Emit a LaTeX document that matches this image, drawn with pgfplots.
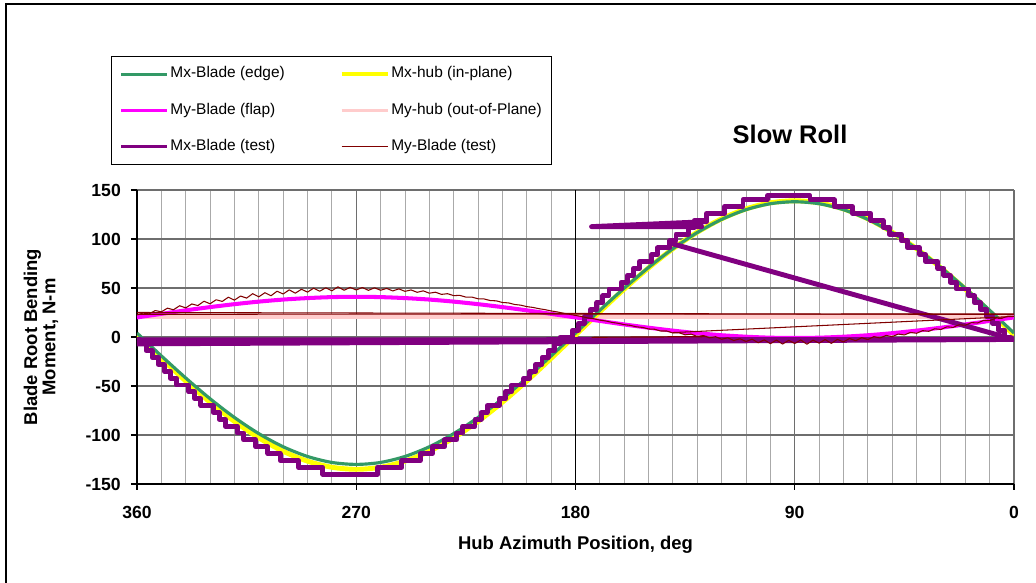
\documentclass[border=0pt]{standalone}
\usepackage{fontspec}
\setmainfont{Liberation Sans}
\usepackage{pgfplots}
\pgfplotsset{compat=1.18}

\definecolor{edgegreen}{RGB}{51,153,102}
\definecolor{hubyellow}{RGB}{255,255,0}
\definecolor{flapmag}{RGB}{255,0,255}
\definecolor{hubpink}{RGB}{255,204,204}
\definecolor{testpurple}{RGB}{128,0,128}
\definecolor{testred}{RGB}{128,0,0}
\definecolor{gridmaj}{RGB}{110,110,110}
\definecolor{gridmin}{RGB}{170,170,170}

\begin{document}
\begin{tikzpicture}
\useasboundingbox (0,0) rectangle (20.72cm,11.66cm);
\draw[line width=0.6pt] (0.12cm,0) -- (0.12cm,11.58cm) -- (20.72cm,11.58cm);
\begin{axis}[
    at={(2.74cm,1.98cm)}, anchor=south west,
    scale only axis, width=17.54cm, height=5.88cm,
    x dir=reverse,
    xmin=0, xmax=360, ymin=-150, ymax=150,
    xtick={0,90,180,270,360},
    ytick={-150,-100,...,150},
    minor x tick num=8,
    xmajorgrids, xminorgrids, ymajorgrids,
    major grid style={gridmaj, line width=0.6pt},
    minor grid style={gridmin, line width=0.5pt},
    extra x ticks={180}, extra x tick labels={},
    extra x tick style={major grid style={black, line width=0.6pt}},
    axis lines*=left,
    axis line style={black, line width=0.7pt, -},
    tick align=outside,
    major tick length=0.12cm, minor tick length=0pt,
    tick style={black, line width=0.6pt},
    /pgf/number format/assume math mode=true,
    ticklabel style={font=\bfseries\fontsize{10}{12}\selectfont},
    xticklabel style={yshift=-0.2cm},
    yticklabel style={xshift=-0.08cm},
    title={Slow Roll},
    title style={at={(axis description cs:0.7446,1.153)}, anchor=center,
        font=\bfseries\fontsize{14.5}{17}\selectfont},
    xlabel={Hub Azimuth Position, deg},
    xlabel style={at={(axis description cs:0.5,-0.207)}, anchor=center,
        font=\bfseries\fontsize{10.5}{12}\selectfont},
    ylabel={Blade Root Bending\\Moment, N-m},
    ylabel style={at={(axis description cs:-0.1095,0.5)}, anchor=center,
        align=center, font=\bfseries\fontsize{10.5}{10.3}\selectfont},
    legend columns=2,
    legend cell align=left,
    legend image code/.code={\draw[#1] (0cm,0cm) -- (0.92cm,0cm);},
    legend style={at={(axis description cs:-0.0296,1.456)}, anchor=north west,
        draw=black, line width=0.6pt,
        font=\fontsize{8.8}{10}\selectfont,
        inner xsep=0.16cm, inner ysep=0.2cm,
        row sep=0.414cm,
        /tikz/every even column/.append style={column sep=1.06cm},
        nodes={inner xsep=1pt, inner ysep=0pt, text height=0.23cm, text depth=0.08cm}},
]

% My-hub (out-of-Plane)
\addplot[forget plot, hubpink, line width=2.8pt] coordinates {
(0,21)(90,21)(180,21)(270,21)(360,21)};

% Mx-hub (in-plane)
\addplot[forget plot, hubyellow, line width=2.8pt, smooth] coordinates {
(0,2)(10,25.8)(20,48.9)(30,70.5)(40,90.1)(50,106.9)(60,120.6)(70,130.7)(80,136.9)
(90,139)(100,136.9)(110,130.7)(120,120.6)(130,106.9)(140,90.1)(150,70.5)(160,48.9)(170,25.8)
(180,2)(190,-21.8)(200,-44.9)(210,-66.5)(220,-86.1)(230,-102.9)(240,-116.6)(250,-126.7)(260,-132.9)
(270,-135)(280,-132.9)(290,-126.7)(300,-116.6)(310,-102.9)(320,-86.1)(330,-66.5)(340,-44.9)(350,-21.8)
(360,2)};

% Mx-Blade (edge)
\addplot[forget plot, edgegreen, line width=1.8pt, smooth] coordinates {
(0,4)(10,27.3)(20,49.8)(30,71)(40,90.1)(50,106.6)(60,120)(70,129.9)(80,136)
(90,138)(100,136)(110,129.9)(120,120)(130,106.6)(140,90.1)(150,71)(160,49.8)(170,27.3)
(180,4)(190,-19.3)(200,-41.8)(210,-63)(220,-82.1)(230,-98.6)(240,-112)(250,-121.9)(260,-128)
(270,-130)(280,-128)(290,-121.9)(300,-112)(310,-98.6)(320,-82.1)(330,-63)(340,-41.8)(350,-19.3)
(360,4)};

% My-Blade (flap)
\addplot[forget plot, flapmag, line width=2.3pt, smooth] coordinates {
(0,20)(10,16.4)(20,12.8)(30,9.5)(40,6.5)(50,3.9)(60,1.8)(70,0.3)(80,-0.7)
(90,-1)(100,-0.7)(110,0.3)(120,1.8)(130,3.9)(140,6.5)(150,9.5)(160,12.8)(170,16.4)
(180,20)(190,23.6)(200,27.2)(210,30.5)(220,33.5)(230,36.1)(240,38.2)(250,39.7)(260,40.7)
(270,41)(280,40.7)(290,39.7)(300,38.2)(310,36.1)(320,33.5)(330,30.5)(340,27.2)(350,23.6)
(360,20)};

% Mx-Blade (test), stepped signal
\addplot[forget plot, testpurple, line width=2.8pt, line join=round, const plot mark mid] coordinates {
(0,-3)(2.5,0)(5,7)(7.5,14)(10,21)(12.5,28)(15,35)(17.5,42)(20,49)(22.5,49)
(25,56)(27.5,63)(30,70)(32.5,77)(35,77)(37.5,84)(40,91)(42.5,91)(45,98)(47.5,105)
(50,105)(52.5,112)(55,119)(57.5,119)(60,126)(62.5,126)(65,126)(67.5,133)(70,133)(72.5,133)
(75,140)(77.5,140)(80,140)(82.5,140)(85,144)(87.5,144)(90,144)(92.5,144)(95,144)(97.5,144)
(100,144)(102.5,140)(105,140)(107.5,140)(110,140)(112.5,133)(115,133)(117.5,133)(120,126)
(122.5,126)(125,126)(127.5,119)(130,119)(132.5,112)(135,105)(137.5,105)(140,98)(142.5,91)
(145,91)(147.5,84)(150,77)(152.5,77)(155,70)(157.5,63)(160,56)(162.5,49)(165,49)(167.5,42)
(170,35)(172.5,28)(175,21)(177.5,14)(180,7)(182.5,0)(185,0)(187.5,-7)(190,-14)(192.5,-21)
(195,-28)(197.5,-35)(200,-42)(202.5,-49)(205,-49)(207.5,-56)(210,-63)(212.5,-70)(215,-70)
(217.5,-77)(220,-84)(222.5,-91)(225,-91)(227.5,-98)(230,-105)(232.5,-105)(235,-112)
(237.5,-112)(240,-119)(242.5,-119)(245,-126)(247.5,-126)(250,-126)(252.5,-133)(255,-133)
(257.5,-133)(260,-133)(262.5,-140)(265,-140)(267.5,-140)(270,-140)(272.5,-140)(275,-140)
(277.5,-140)(280,-140)(282.5,-140)(285,-133)(287.5,-133)(290,-133)(292.5,-133)(295,-126)
(297.5,-126)(300,-126)(302.5,-119)(305,-119)(307.5,-112)(310,-112)(312.5,-105)(315,-105)
(317.5,-98)(320,-91)(322.5,-91)(325,-84)(327.5,-77)(330,-70)(332.5,-70)(335,-63)(337.5,-56)
(340,-49)(342.5,-49)(345,-42)(347.5,-35)(350,-28)(352.5,-21)(355,-14)(357.5,-7)(360,-3)};
\addplot[forget plot, testpurple, line width=2.8pt, line join=round, line cap=round] coordinates {
(126.2,117.7)(173.4,112.6)(128.2,112.6)};
\addplot[forget plot, testpurple, line width=2.8pt, line cap=round] coordinates {(0,-2.5)(140,95)};
\addplot[forget plot, testpurple, line width=2.8pt] coordinates {(0,-2.5)(360,-3)};
\addplot[forget plot, testpurple, line width=2.8pt] coordinates {(0,-2.5)(360,-7)};

% My-Blade (test)
\addplot[forget plot, testred, line width=0.6pt, line join=round] coordinates {
(0,21)(2.5,21.3)(5,19.1)(7.5,19.2)(10,16.7)(12.5,16.9)(15,14.3)(17.5,14.7)(20,12)(22.5,12.5)
(25,9.8)(27.5,10.4)(30,7.7)(32.5,8.4)(35,5.8)(37.5,6.5)(40,3.8)(42.5,4.7)(45,2.1)(47.5,3)
(50,0.4)(52.5,1.6)(55,-1)(57.5,0.4)(60,-2.6)(62.5,-0.7)(65,-3.8)(67.5,-1.5)(70,-5)(72.5,-2.4)
(75,-6.5)(77.5,-2.6)(80,-6.3)(82.5,-3.2)(85,-7.4)(87.5,-3)(90,-6.6)(92.5,-3.4)(95,-7.2)
(97.5,-3.1)(100,-6.8)(102.5,-2.9)(105,-5.9)(107.5,-2.2)(110,-4.6)(112.5,-1.8)(115,-3.6)
(117.5,-0.8)(120,-2.3)(122.5,0.3)(125,-0.9)(127.5,1.5)(130,0.6)(132.5,2.9)(135,2.2)(137.5,4.4)
(140,4.1)(142.5,6.1)(145,6.1)(147.5,7.9)(150,8.2)(152.5,9.8)(155,10.4)(157.5,11.9)(160,12.6)
(162.5,14)(165,14.9)(167.5,16.3)(170,17.2)(172.5,18.6)(175,19.5)(177.5,20.9)(180,22)
(182.5,23.2)(185,24.3)(187.5,25.6)(190,26.6)(192.5,27.9)(195,28.9)(197.5,30.2)(200,31)
(202.5,32.5)(205,33.2)(207.5,34.8)(210,35.2)(212.5,36.9)(215,37.2)(217.5,38.8)(220,39)
(222.5,40.7)(225,40.7)(227.5,42.5)(230,42.2)(232.5,44.2)(235,43.5)(237.5,45.7)(240,44.7)
(242.5,47.1)(245,45.6)(247.5,48)(250,46.6)(252.5,49.1)(255,47)(257.5,49.6)(260,47.7)
(262.5,50.2)(265,47.6)(267.5,50.5)(270,48)(272.5,50.6)(275,47.7)(277.5,51.2)(280,47.1)
(282.5,50.2)(285,46.7)(287.5,49.8)(290,45.8)(292.5,48.7)(295,44.7)(297.5,48.1)(300,43.9)
(302.5,46.7)(305,42.1)(307.5,45.2)(310,41)(312.5,44.2)(315,39.7)(317.5,41.8)(320,37.6)
(322.5,40.6)(325,36.3)(327.5,38)(330,33.9)(332.5,36.5)(335,32.1)(337.5,33.7)(340,29.7)
(342.5,31.9)(345,27.8)(347.5,29.4)(350,25.7)(352.5,27)(355,23.6)(357.5,24.4)(360,22.5)};
\addplot[forget plot, testred, line width=0.6pt] coordinates {(0,21)(140,4.5)};
\addplot[forget plot, testred, line width=0.6pt] coordinates {(0,23)(360,25)};
\addplot[forget plot, testred, line width=0.6pt] coordinates {(0,23.5)(360,23.2)};
\addplot[forget plot, testred, line width=0.6pt] coordinates {(126,0.5)(173.4,-0.3)(128,0.2)};

\addlegendimage{edgegreen, line width=1.8pt}
\addlegendentry{Mx-Blade (edge)}
\addlegendimage{hubyellow, line width=2.3pt}
\addlegendentry{Mx-hub (in-plane)}
\addlegendimage{flapmag, line width=1.8pt}
\addlegendentry{My-Blade (flap)}
\addlegendimage{hubpink, line width=1.8pt}
\addlegendentry{My-hub (out-of-Plane)}
\addlegendimage{testpurple, line width=1.8pt}
\addlegendentry{Mx-Blade (test)}
\addlegendimage{testred, line width=0.6pt}
\addlegendentry{My-Blade (test)}
\end{axis}
\end{tikzpicture}
\end{document}
